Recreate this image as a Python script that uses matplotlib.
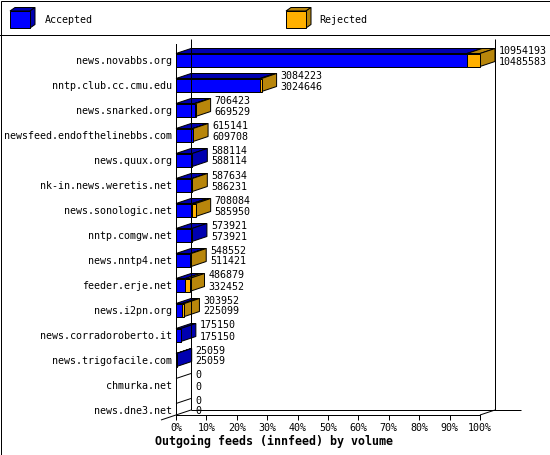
import matplotlib
matplotlib.use("Agg")
import matplotlib.pyplot as plt
from matplotlib.patches import Polygon, Rectangle

# feeds, top to bottom
hosts = ["news.novabbs.org", "nntp.club.cc.cmu.edu", "news.snarked.org",
         "newsfeed.endofthelinebbs.com", "news.quux.org", "nk-in.news.weretis.net",
         "news.sonologic.net", "nntp.comgw.net", "news.nntp4.net", "feeder.erje.net",
         "news.i2pn.org", "news.corradoroberto.it", "news.trigofacile.com",
         "chmurka.net", "news.dne3.net"]
offered = [10954193, 3084223, 706423, 615141, 588114, 587634, 708084, 573921,
           548552, 486879, 303952, 175150, 25059, 0, 0]
accepted = [10485583, 3024646, 669529, 609708, 588114, 586231, 585950, 573921,
            511421, 332452, 225099, 175150, 25059, 0, 0]
pct_ticks = [0, 10, 20, 30, 40, 50, 60, 70, 80, 90, 100]

BLUE, DBLUE = "#0000ff", "#0000b0"
ORANGE, DORANGE = "#ffb000", "#b8860b"
LW = 0.72
FONT = "DejaVu Sans Mono"
plt.rcParams["font.family"] = FONT

W, H = 550, 455
fig = plt.figure(figsize=(W / 100, H / 100), dpi=100)

# background layer in pixel units: frame + legend
bg = fig.add_axes([0, 0, 1, 1])
bg.set_xlim(0, W)
bg.set_ylim(H, 0)
bg.axis("off")
bg.add_patch(Rectangle((0.5, 0.5), W - 1, H - 1, fill=False, ec="black", lw=LW))
bg.plot([0, W], [34.5, 34.5], color="black", lw=LW)


def cube(axis, x, y, w, h, dx, dy, front, dark):
    axis.add_patch(Polygon([(x, y), (x + w, y), (x + w + dx, y - dy), (x + dx, y - dy)],
                           closed=True, fc=dark, ec="black", lw=LW))
    axis.add_patch(Polygon([(x + w, y), (x + w + dx, y - dy), (x + w + dx, y + h - dy),
                            (x + w, y + h)], closed=True, fc=dark, ec="black", lw=LW))
    axis.add_patch(Rectangle((x, y), w, h, fc=front, ec="black", lw=LW))


cube(bg, 10, 11, 20, 17, 5, 3.5, BLUE, DBLUE)
bg.text(45, 20, "Accepted", fontsize=7.2, va="center", ha="left")
cube(bg, 286, 11, 20, 17, 5, 3.5, ORANGE, DORANGE)
bg.text(319, 20, "Rejected", fontsize=7.2, va="center", ha="left")

# main plot: x in percent, y = row index
x0, x1 = 176, 480
ytop, ybot = 44, 415
ax = fig.add_axes([x0 / W, (H - ybot) / H, (x1 - x0) / W, (ybot - ytop) / H])
ax.patch.set_alpha(0)
ax.set_xlim(0, 100)
ax.set_ylim((ybot - 60) / 25, (ytop - 60) / 25)
px_x = 100 / (x1 - x0)
px_y = 1 / 25
DX, DY = 15 * px_x, 5 * px_y
HALF = 6.5 * px_y

for s in ["top", "right"]:
    ax.spines[s].set_visible(False)
for s in ["left", "bottom"]:
    ax.spines[s].set_linewidth(LW)

ymin, ymax = ax.get_ylim()
kw = dict(color="black", lw=LW, clip_on=False, solid_capstyle="butt")
ax.plot([DX, DX], [ymax - DY, ymin - DY], **kw)
ax.plot([100 + DX, 100 + DX], [ymax - DY, ymin - DY], **kw)
ax.plot([DX, 113.5], [ymin - DY, ymin - DY], **kw)
ax.plot([-DX, DX], [ymin + DY, ymin - DY], **kw)
ax.plot([100, 100 + DX], [ymin, ymin - DY], **kw)

top = max(offered)
ks = list(range(len(hosts)))
acc_pct = [a / top * 100 for a in accepted]
tot_pct = [o / top * 100 for o in offered]
rej_pct = [t - a for t, a in zip(tot_pct, acc_pct)]

for k, a, t in zip(ks, acc_pct, tot_pct):
    yt = k - HALF
    # top faces
    ax.add_patch(Polygon([(0, yt), (a, yt), (a + DX, yt - DY), (DX, yt - DY)],
                         closed=True, fc=DBLUE, ec="black", lw=LW, clip_on=False))
    if t > a:
        ax.add_patch(Polygon([(a, yt), (t, yt), (t + DX, yt - DY), (a + DX, yt - DY)],
                             closed=True, fc=DORANGE, ec="black", lw=LW, clip_on=False))
    if t > 0:
        side = DORANGE if t > a else DBLUE
        ax.add_patch(Polygon([(t, yt), (t + DX, yt - DY), (t + DX, k + HALF - DY),
                              (t, k + HALF)], closed=True, fc=side, ec="black",
                             lw=LW, clip_on=False))

ax.barh(ks, acc_pct, height=2 * HALF, color=BLUE, edgecolor="black", lw=LW,
        clip_on=False)
ax.barh(ks, rej_pct, left=acc_pct, height=2 * HALF, color=ORANGE,
        edgecolor="black", lw=LW, clip_on=False)

for k, t, o, a in zip(ks, tot_pct, offered, accepted):
    xl = t + DX + 4 * px_x
    ax.text(xl, k - 9.5 * px_y, str(o), fontsize=7.2, va="center", ha="left",
            clip_on=False)
    ax.text(xl, k + 1.5 * px_y, str(a), fontsize=7.2, va="center", ha="left",
            clip_on=False)

ax.set_yticks(ks)
ax.set_yticklabels(hosts, fontsize=7.2)
ax.tick_params(axis="y", length=0, pad=2.9)
ax.set_xticks(pct_ticks)
ax.set_xticklabels([f"{p}%" for p in pct_ticks], fontsize=7.2)
ax.tick_params(axis="x", length=3.6, width=LW, pad=2.2, direction="out")

fig.text(155 / W, 1 - 441 / H, "Outgoing feeds (innfeed) by volume",
         fontsize=8.4, fontweight="bold", va="center", ha="left")

fig.savefig("out.png", dpi=100)
